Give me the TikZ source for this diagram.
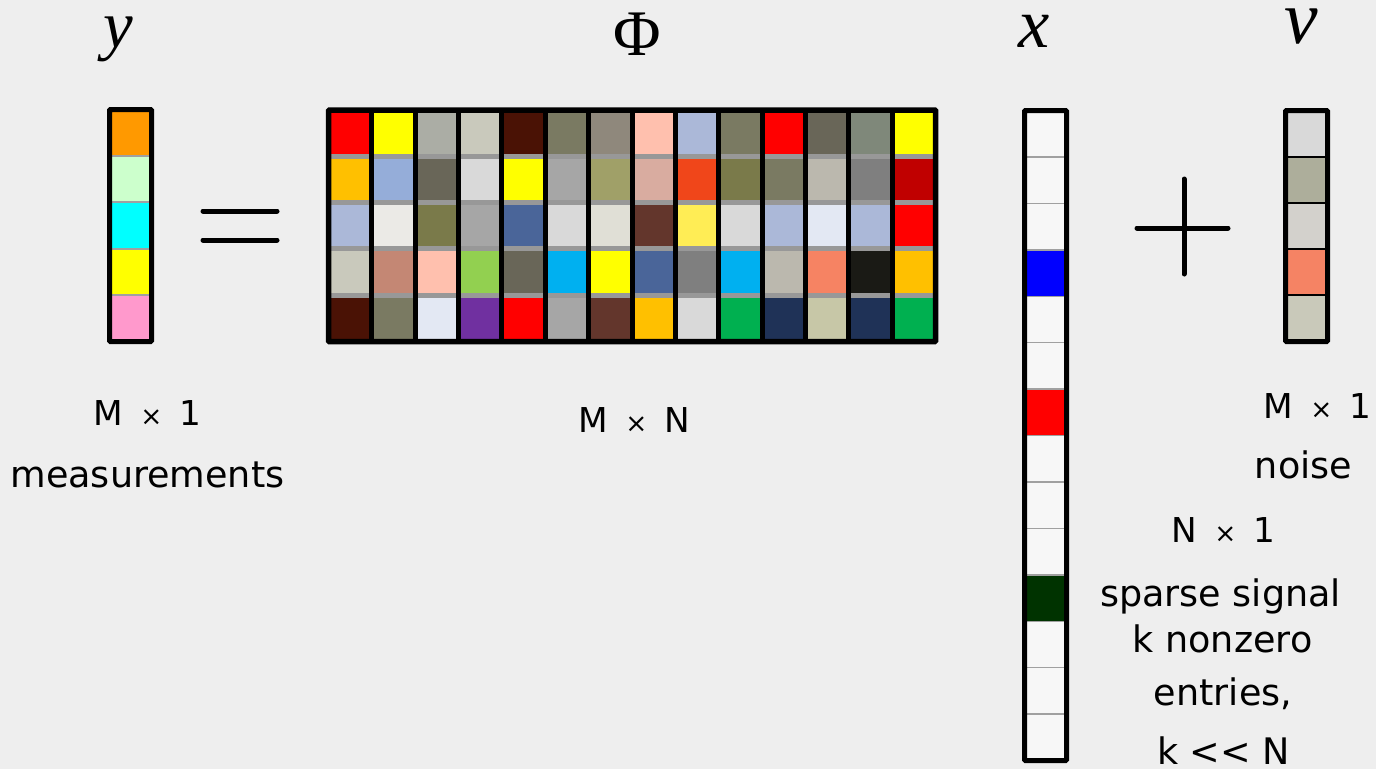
\documentclass[tikz,border=0pt]{standalone}
\usepackage{fontspec}
\setmainfont{DejaVu Sans}
\newfontfamily\symfont{Liberation Serif}
\usetikzlibrary{positioning}
\definecolor{bgpaper}{HTML}{EEEEEE}
\definecolor{bandgray}{HTML}{989898}
\definecolor{sepgray}{HTML}{A0A0A0}
\definecolor{ymOrange}{HTML}{FF9900}
\definecolor{ymMint}{HTML}{CCFFCC}
\definecolor{ymCyan}{HTML}{00FFFF}
\definecolor{ymYellow}{HTML}{FFFF00}
\definecolor{ymPink}{HTML}{FF99CC}
\definecolor{cRed}{HTML}{FF0000}
\definecolor{cGold}{HTML}{FFC000}
\definecolor{cSteel}{HTML}{ABB8D8}
\definecolor{cBeige}{HTML}{C9C9BC}
\definecolor{cDbrown}{HTML}{4A1205}
\definecolor{cYellow}{HTML}{FFFF00}
\definecolor{cCorn}{HTML}{95ADD9}
\definecolor{cOff}{HTML}{EBEAE6}
\definecolor{cClay}{HTML}{C48774}
\definecolor{cOlgray}{HTML}{7A7A62}
\definecolor{cSage}{HTML}{ABADA5}
\definecolor{cSlate}{HTML}{696658}
\definecolor{cOlive}{HTML}{7A7A4A}
\definecolor{cPeach}{HTML}{FFC0AE}
\definecolor{cLav}{HTML}{E3E8F3}
\definecolor{cLgray}{HTML}{D9D9D9}
\definecolor{cMgray}{HTML}{A6A6A6}
\definecolor{cLime}{HTML}{92D050}
\definecolor{cPurple}{HTML}{7030A0}
\definecolor{cDenim}{HTML}{4A6599}
\definecolor{cSky}{HTML}{00B0F0}
\definecolor{cTaupe}{HTML}{8F887C}
\definecolor{cKhaki}{HTML}{A0A068}
\definecolor{cLinen}{HTML}{E0DFD6}
\definecolor{cMaroon}{HTML}{63362C}
\definecolor{cRose}{HTML}{D9ACA0}
\definecolor{cFlame}{HTML}{F0461A}
\definecolor{cLemon}{HTML}{FFED55}
\definecolor{cGray}{HTML}{7F7F7F}
\definecolor{cGreen}{HTML}{00B050}
\definecolor{cStone}{HTML}{BBB8AE}
\definecolor{cNavy}{HTML}{1F3257}
\definecolor{cCoral}{HTML}{F68363}
\definecolor{cSand}{HTML}{C7C7A7}
\definecolor{cMoss}{HTML}{7F887A}
\definecolor{cInk}{HTML}{1A1A15}
\definecolor{cCrimson}{HTML}{C00000}
\definecolor{xvBlank}{HTML}{F7F7F7}
\definecolor{xvBlue}{HTML}{0000FF}
\definecolor{xvRed}{HTML}{FF0000}
\definecolor{xvGreen}{HTML}{003300}
\definecolor{nvLight}{HTML}{D9D9D9}
\definecolor{nvSage}{HTML}{ADAE9B}
\definecolor{nvPale}{HTML}{D3D1CC}
\definecolor{nvCoral}{HTML}{F58364}
\definecolor{nvBeige}{HTML}{C9C9BA}
\newcommand{\by}{\hspace{0.5em}{\fontsize{15pt}{15pt}\selectfont ×}\hspace{0.5em}}

\begin{document}
\begin{tikzpicture}[x=0.02cm,y=-0.02cm,
  lbl/.style={anchor=base,inner sep=0pt,font={\fontsize{20.8pt}{24pt}\selectfont}},
  dimlbl/.style={anchor=base,inner sep=0pt,font={\fontsize{19.5pt}{22pt}\selectfont}},
  sym/.style={anchor=base,inner sep=0pt,text height=0.55em,text depth=0.2em,font={\symfont\itshape\fontsize{40pt}{44pt}\selectfont}},
  frame/.style={line width=0.1cm,rounded corners=0.5pt},
  rule/.style={line width=0.1cm,line cap=round}]
\fill[bgpaper] (0,0) rectangle (1376,769);
\useasboundingbox (0,0) rectangle (1376,769);

\foreach \c [count=\j] in {ymOrange,ymMint,ymCyan,ymYellow,ymPink}
  \fill[\c] (109.5,{109.5+(\j-1)*46.4}) rectangle (151.5,{109.5+\j*46.4});
\foreach \j in {1,...,4}
  \draw[sepgray,line width=1pt] (109.5,{109.5+\j*46.4}) -- (151.5,{109.5+\j*46.4});
\draw[frame] (109.5,109.5) rectangle (151.5,341.5);

\draw[rule] (203,211) -- (277,211);
\draw[rule] (203,240) -- (277,240);

\foreach \cols [count=\i] in {
  {cRed,cGold,cSteel,cBeige,cDbrown},
  {cYellow,cCorn,cOff,cClay,cOlgray},
  {cSage,cSlate,cOlive,cPeach,cLav},
  {cBeige,cLgray,cMgray,cLime,cPurple},
  {cDbrown,cYellow,cDenim,cSlate,cRed},
  {cOlgray,cMgray,cLgray,cSky,cMgray},
  {cTaupe,cKhaki,cLinen,cYellow,cMaroon},
  {cPeach,cRose,cMaroon,cDenim,cGold},
  {cSteel,cFlame,cLemon,cGray,cLgray},
  {cOlgray,cOlive,cLgray,cSky,cGreen},
  {cRed,cOlgray,cSteel,cStone,cNavy},
  {cSlate,cStone,cLav,cCoral,cSand},
  {cMoss,cGray,cSteel,cInk,cNavy},
  {cYellow,cCrimson,cRed,cGold,cGreen}} {
  \foreach \c [count=\j] in \cols
    \fill[\c] ({328.5+(\i-1)*43.36},{110+(\j-1)*46.3}) rectangle ({328.5+\i*43.36},{110+\j*46.3});
}
\foreach \j in {1,...,4}
  \draw[bandgray,line width=0.1cm] (328.5,{110+\j*46.3}) -- (935.5,{110+\j*46.3});
\foreach \i in {1,...,13}
  \draw[line width=0.1cm] ({328.5+\i*43.36},110) -- ({328.5+\i*43.36},341.5);
\draw[frame,line width=0.11cm] (328.5,110) rectangle (935.5,341.5);

\foreach \c [count=\j] in {xvBlank,xvBlank,xvBlank,xvBlue,xvBlank,xvBlank,xvRed,xvBlank,xvBlank,xvBlank,xvGreen,xvBlank,xvBlank,xvBlank}
  \fill[\c] (1024.5,{110.5+(\j-1)*46.43}) rectangle (1066.5,{110.5+\j*46.43});
\foreach \j in {1,...,13}
  \draw[sepgray,line width=0.8pt] (1024.5,{110.5+\j*46.43}) -- (1066.5,{110.5+\j*46.43});
\draw[frame] (1024.5,110.5) rectangle (1066.5,760.5);

\draw[rule] (1137,228) -- (1228,228);
\draw[rule] (1184,179) -- (1184,274);

\foreach \c [count=\j] in {nvLight,nvSage,nvPale,nvCoral,nvBeige}
  \fill[\c] (1285.5,{110.5+(\j-1)*46.2}) rectangle (1327.5,{110.5+\j*46.2});
\foreach \j in {1,...,4}
  \draw[line width=1pt] (1285.5,{110.5+\j*46.2}) -- (1327.5,{110.5+\j*46.2});
\draw[frame] (1285.5,110.5) rectangle (1327.5,341.5);

\node[sym,font={\symfont\itshape\fontsize{38pt}{42pt}\selectfont}] (ysym) at (118,47) {y};
\node[sym,font={\symfont\fontsize{37pt}{42pt}\selectfont},text height=0.68em] (phisym) at (637.5,55) {Φ};
\node[sym] (xsym) at (1034,47) {x};
\node[sym,font={\symfont\itshape\fontsize{43pt}{46pt}\selectfont}] (vsym) at (1301,43) {v};

\node[dimlbl] (ydim) at (147.5,425) {M\by 1};
\node[lbl] (ymeas) at (147.5,487) {measurements};
\node[dimlbl] (phidim) at (634.5,432) {M\by N};
\node[dimlbl] (vdim) at (1317.5,418) {M\by 1};
\node[lbl] (vnoise) at (1303.5,478) {noise};
\node[dimlbl] (xdim) at (1223.5,542) {N\by 1};
\node[lbl] (xsparse) at (1220.5,606) {sparse signal};
\node[lbl] (xknz) at (1222.5,652) {k nonzero};
\node[lbl] (xentries) at (1223,705) {entries,};
\node[lbl] (xkll) at (1223.5,764) {k {<}{<} N};
\end{tikzpicture}
\end{document}
